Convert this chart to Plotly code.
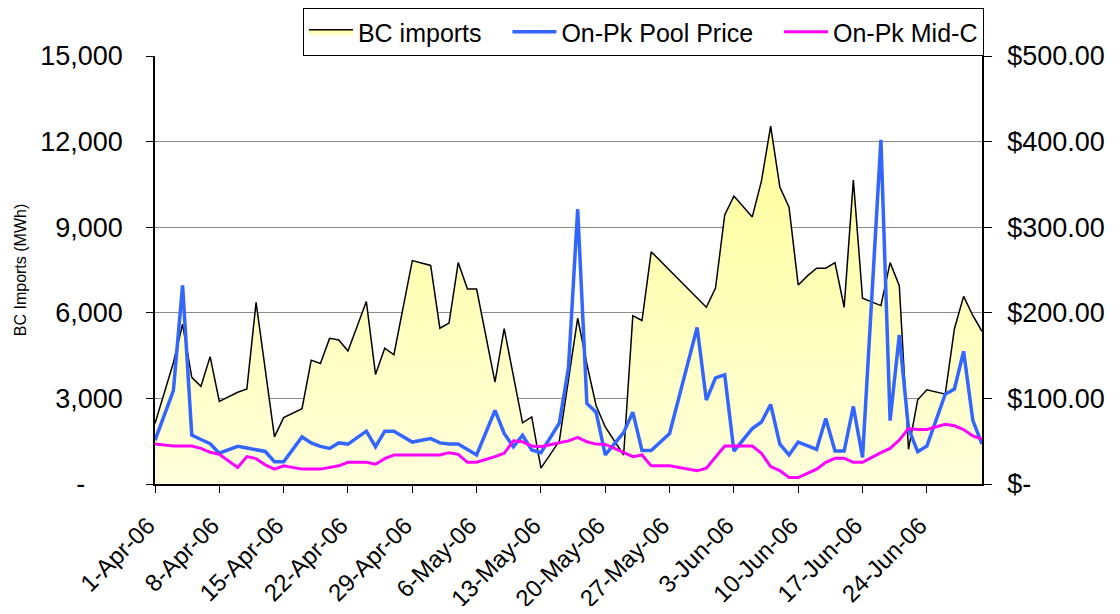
import pandas as pd
import plotly.graph_objects as go

dates = pd.date_range("2006-04-01", "2006-06-30", freq="D")

# daily values, None where the reference has no point (line runs straight through)
bc_imports = [
    2120, None, 4250, 5600, 3736, 3424, 4465, 2892, None, 3215,
    3333, 6364, None, 1653, 2326, None, 2639, 4340, 4222, 5104,
    5045, 4663, None, 6395, 3840, 4760, 4530, None, 7830, None,
    7660, 5460, 5640, 7760, 6830, 6830, None, 3567, 5443, None,
    2142, 2351, 556, None, 1505, None, 5815, 4201, 2753, 2000,
    None, 1017, 5902, 5729, 8140, None, None, None, None, None,
    6195, 6867, 9430, 10090, None, 9360, 10624, 12540, 10410, 9700,
    6971, 7295, 7562, 7562, 7759, 6195, 10654, 6508, None, 6253,
    7759, 6948, 1216, 2953, 3300, None, 3150, 5443, 6577, 5906,
    5350,
]

pool_price = [
    51, None, 109, 232, 57, 52, 47, 36, None, 44,
    42, None, 38, 26, 26, None, 55, 48, 44, 41.6,
    48, 46.6, None, 61.7, 43.5, 61.7, 61.7, None, 49, None,
    53, 48, 46.6, 46.6, None, 34, None, 86, 59, 43.5,
    57, 39.7, 36.6, None, 71, 136, 321, 94, 84, 34,
    None, 60, 84, 39, 39, None, 59, None, None, 183,
    98, 124, 127.6, 38.5, None, 64.8, 72.4, 92.9, 46.6, 33.9,
    49, None, 40.5, 76.4, 38.5, 38.5, 90.6, 31, None, 402,
    74, 174, 65, 37.7, 44.3, None, 105, 111, 155, 74.4,
    46.6,
]

mid_c = [
    46.6, None, 44.3, None, 44.3, 41.6, 37, 34.7, None, 19.2,
    32, 29.6, 22.3, 17.4, 21.2, None, 17.4, 17.4, 17.4, None,
    21.2, 25.4, None, 25.4, 23.1, 29.6, 33.9, None, 33.9, None,
    33.9, 33.9, 36.6, 34.7, 25.4, 25.4, None, 32, 35.9, 50.4,
    49.3, 44.3, 43.5, None, 48.1, 50.4, 54.4, 49.3, 46.6, 46.2,
    41.6, 37, 32, 33.9, 21.2, None, 21.2, None, None, 15.4,
    18.5, 31.2, 44.3, 44.3, 44.3, 44.3, 35.9, 20.4, 15.7, 7.6,
    7.6, 12.7, 17.4, 25.4, 30, 30, 25.4, 25.4, 31.2, 36.6,
    41.6, 51.3, 64.8, 63.6, 63.6, 66.6, 69.8, 68, 63.6, 56.2,
    52.4,
]

left_ticks = [0, 3000, 6000, 9000, 12000, 15000]
left_labels = ["-\u00a0\u00a0\u00a0\u00a0\u00a0", "3,000", "6,000", "9,000", "12,000", "15,000"]
right_ticks = [0, 100, 200, 300, 400, 500]
right_labels = ["$-", "$100.00", "$200.00", "$300.00", "$400.00", "$500.00"]

pad = "\u00a0\u00a0\u00a0"  # extra room between legend entries


def points(vals):
    xs = [d for d, v in zip(dates, vals) if v is not None]
    ys = [v for v in vals if v is not None]
    return xs, ys


font = "Liberation Sans, Arial, sans-serif"
fig = go.Figure()

x, y = points(bc_imports)
fig.add_trace(go.Scatter(
    x=x, y=y, name="BC imports" + pad, mode="lines", fill="tozeroy",
    line=dict(color="black", width=1.5),
    fillgradient=dict(type="vertical",
                      colorscale=[[0, "#FFFFDC"], [1, "#FFFF99"]]),
))

x, y = points(pool_price)
fig.add_trace(go.Scatter(
    x=x, y=y, name="On-Pk Pool Price" + pad, mode="lines", yaxis="y2",
    line=dict(color="#3366FF", width=3.5),
))

x, y = points(mid_c)
fig.add_trace(go.Scatter(
    x=x, y=y, name="On-Pk Mid-C", mode="lines", yaxis="y2",
    line=dict(color="#FF00FF", width=3),
))

# page body has an 8px margin, so the figure is shrunk and shifted to fit
fig.update_layout(
    width=1104, height=598,
    margin=dict(l=147, r=130, t=44, b=122),
    paper_bgcolor="white", plot_bgcolor="white",
    font=dict(family=font, size=26, color="black"),
    showlegend=True,
    legend=dict(
        orientation="h", xref="container", x=0.884, xanchor="right",
        yref="container", y=1.0, yanchor="top",
        bordercolor="black", borderwidth=1, bgcolor="white",
        font=dict(size=25), itemwidth=44, tracegroupgap=0,
    ),
    xaxis=dict(
        type="date", range=["2006-04-01", "2006-06-30"],
        tick0="2006-04-01", dtick=7 * 86400000, tickformat="%-d-%b-%y",
        tickangle=-45, tickfont=dict(size=24), automargin=False,
        ticklabelstandoff=9, ticklabelshift=-7,
        showgrid=False, showline=True, linecolor="black", linewidth=2,
        ticks="outside", ticklen=7, tickcolor="black",
    ),
    yaxis=dict(
        range=[0, 15000], tickvals=left_ticks, ticktext=left_labels,
        tickfont=dict(size=27), automargin=False,
        showgrid=True, gridcolor="#8c8c8c", gridwidth=1,
        showline=True, linecolor="black", linewidth=1.5,
        ticks="outside", ticklen=7, tickcolor="black", zeroline=False,
        ticklabelstandoff=18,
        title=dict(text="BC Imports (MWh)", font=dict(size=16), standoff=10),
    ),
    yaxis2=dict(
        range=[0, 500], tickvals=right_ticks, ticktext=right_labels,
        tickfont=dict(size=27), automargin=False,
        overlaying="y", side="right", showgrid=False,
        showline=True, linecolor="black", linewidth=1.5,
        ticks="outside", ticklen=8, tickcolor="black", zeroline=False,
        ticklabelstandoff=10,
    ),
)

fig.write_html("out.html")
